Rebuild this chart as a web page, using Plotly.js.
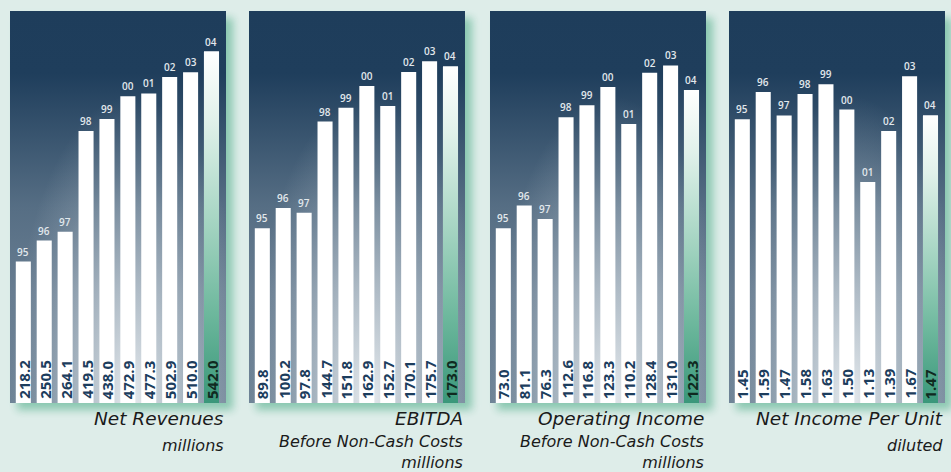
<!DOCTYPE html>
<html><head><meta charset="utf-8">
<script src="https://cdn.plot.ly/plotly-3.0.1.min.js"></script>
<style>html,body{margin:0;padding:0;background:#deede9;overflow:hidden}#chart{width:951px;height:472px}</style>
</head><body><div id="chart"></div>
<script>
// ---------- data ----------
const years = ['95','96','97','98','99','00','01','02','03','04'];
const netRevenues = [218.2,250.5,264.1,419.5,438.0,472.9,477.3,502.9,510.0,542.0];
const ebitda = [89.8,100.2,97.8,144.7,151.8,162.9,152.7,170.1,175.7,173.0];
const operatingIncome = [73.0,81.1,76.3,112.6,116.8,123.3,110.2,128.4,131.0,122.3];
const netIncomePerUnit = [1.45,1.59,1.47,1.58,1.63,1.50,1.13,1.39,1.67,1.47];
const seriesList = [netRevenues, ebitda, operatingIncome, netIncomePerUnit];
const decimals = [1,1,1,2];
const titleMain = ['Net Revenues','EBITDA','Operating Income','Net Income Per Unit'];
const titleSub = [['millions'],['Before Non-Cash Costs','millions'],['Before Non-Cash Costs','millions'],['diluted']];

// ---------- layout config ----------
const W = 951, H = 472;
const panelLeft = [10, 249, 490, 729];
const panelW = 216, panelTop = 11, panelBottom = 403;
const yRanges = [[0,604.5],[0,201.5],[10.8,150.4],[0,2.004]];
const xRange = [-0.637, 9.694];
const barW = 0.72;

// background svg (panels, shadows, gradients)
let svg = `<svg xmlns="http://www.w3.org/2000/svg" width="${W}" height="${H}" viewBox="0 0 ${W} ${H}"><defs>
<filter id="bl" x="-30%" y="-30%" width="160%" height="160%"><feGaussianBlur stdDeviation="4.5"/></filter>
<linearGradient id="base" x1="0" y1="0" x2="0" y2="1">
<stop offset="0" stop-color="#1e3d5b"/><stop offset="0.16" stop-color="#1f3e5c"/>
<stop offset="0.5" stop-color="#566e84"/><stop offset="0.72" stop-color="#687d91"/><stop offset="1" stop-color="#6e8396"/></linearGradient>
<radialGradient id="glow" cx="0.56" cy="1" r="0.56" gradientTransform="translate(0.56,1) scale(1,1.4) translate(-0.56,-1)">
<stop offset="0" stop-color="#eaeef1" stop-opacity="0.97"/><stop offset="0.4" stop-color="#e2e8ec" stop-opacity="0.55"/>
<stop offset="0.75" stop-color="#d8e0e6" stop-opacity="0.18"/><stop offset="1" stop-color="#d8e0e6" stop-opacity="0"/></radialGradient>
</defs>`;
panelLeft.forEach(L => {
  const h = panelBottom - panelTop;
  svg += `<rect x="${L+7}" y="${panelTop+7}" width="${panelW}" height="${h}" fill="#86c6ae" opacity="0.95" filter="url(#bl)"/>`;
  svg += `<rect x="${L}" y="${panelTop}" width="${panelW}" height="${h}" fill="url(#base)"/>`;
  svg += `<rect x="${L}" y="${panelTop}" width="${panelW}" height="${h}" fill="url(#glow)"/>`;
});
svg += '</svg>';
const bgSrc = 'data:image/svg+xml;charset=utf-8,' + encodeURIComponent(svg);

const traces = [];
const annotations = [];
const layout = {
  width: W, height: H,
  margin: {l:0, r:0, t:0, b:0},
  paper_bgcolor: '#deede9',
  plot_bgcolor: 'rgba(0,0,0,0)',
  showlegend: false,
  images: [{source: bgSrc, xref:'paper', yref:'paper', x:0, y:1, sizex:1, sizey:1,
            xanchor:'left', yanchor:'top', sizing:'stretch', layer:'below'}],
  annotations: annotations
};

const titleFont = 'DejaVu Sans';
const idx = years.map((_, i) => i);
seriesList.forEach((vals, k) => {
  const sfx = k === 0 ? '' : String(k + 1);
  const xa = 'x' + sfx, ya = 'y' + sfx;
  const L = panelLeft[k];
  layout['xaxis' + sfx] = {domain: [L / W, (L + panelW) / W], range: xRange, visible: false, fixedrange: true};
  layout['yaxis' + sfx] = {domain: [1 - panelBottom / H, 1 - panelTop / H], range: yRanges[k], visible: false, fixedrange: true};
  const yMin = yRanges[k][0];

  traces.push({type:'bar', x: idx, y: vals, xaxis: xa, yaxis: ya, width: barW,
    marker: {color: '#ffffff', line: {width: 0}}, hoverinfo: 'skip'});

  // gradient (highlighted) latest bar
  const last = vals.length - 1, v = vals[last];
  traces.push({type:'scatter', mode:'lines', xaxis: xa, yaxis: ya,
    x: [last - barW/2, last + barW/2, last + barW/2, last - barW/2, last - barW/2],
    y: [v, v, yMin, yMin, v],
    fill: 'toself', line: {width: 0, color: 'rgba(0,0,0,0)'},
    fillgradient: {type: 'vertical', start: yMin, stop: v,
      colorscale: [[0,'#3a977a'],[0.25,'#6cb79c'],[0.5,'#a2d3c0'],[0.8,'#e0f1ea'],[1,'#ffffff']]},
    hoverinfo: 'skip'});

  vals.forEach((val, i) => {
    annotations.push({xref: xa, yref: ya, x: i, y: val, text: years[i], showarrow: false,
      xanchor: 'center', yanchor: 'bottom', yshift: 1,
      font: {family: 'Open Sans', size: 10, weight: 600, color: '#e2e8ec'}});
    annotations.push({xref: xa, yref: ya, x: i, y: yMin, text: val.toFixed(decimals[k]), showarrow: false,
      textangle: -90, xanchor: 'center', yanchor: 'bottom', yshift: 2,
      font: {family: 'Open Sans', size: 15, weight: 700, color: i === last ? '#10291f' : '#1c3d5d'}});
  });

  // titles
  const right = (L + panelW) / W;
  annotations.push({xref:'paper', yref:'paper', x: right, y: 1 - 406 / H, text: titleMain[k], showarrow:false,
    xanchor:'right', yanchor:'top', align:'right',
    font:{family: titleFont, size:18.5, style:'italic', color:'#1a1a1a'}});
  const subTop = titleSub[k].length === 1 ? 434 : 430;
  annotations.push({xref:'paper', yref:'paper', x: right, y: 1 - subTop / H, text: titleSub[k].join('<br>'), showarrow:false,
    xanchor:'right', yanchor:'top', align:'right',
    font:{family: titleFont, size:16, style:'italic', color:'#1a1a1a'}});
});

Plotly.newPlot('chart', traces, layout, {staticPlot: true, displayModeBar: false});
</script></body></html>
